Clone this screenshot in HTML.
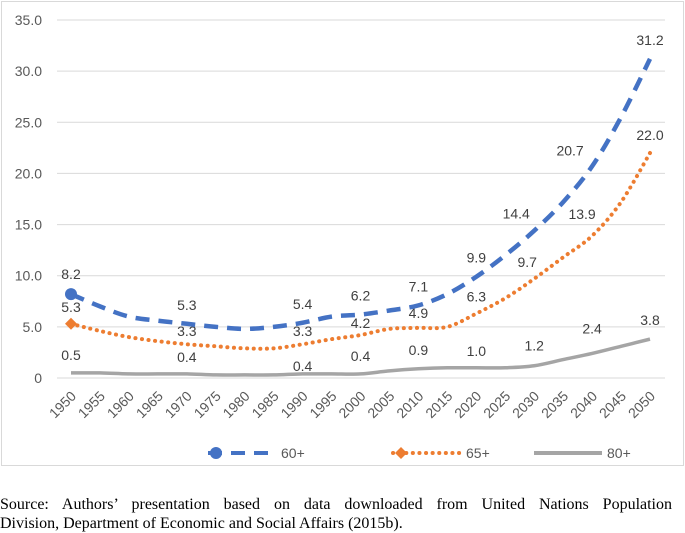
<!DOCTYPE html>
<html><head><meta charset="utf-8"><style>
body{margin:0;background:#fff;width:685px;height:533px;overflow:hidden;font-family:"Liberation Sans",sans-serif}
#box{position:absolute;left:1px;top:1px;width:681px;height:463px;border:1px solid #d9d9d9}
#src{position:absolute;left:0;top:495px;width:672px;font-family:"Liberation Serif",serif;font-size:16px;line-height:19px;color:#000}
#src .l1{text-align:justify;text-align-last:justify}
</style></head><body>
<div id="box"></div>
<svg id="chart" width="685" height="470" style="position:absolute;left:0;top:0"></svg>
<div id="src"><div class="l1">Source: Authors’ presentation based on data downloaded from United Nations Population</div><div>Division, Department of Economic and Social Affairs (2015b).</div></div>
<script>
const years=[1950,1955,1960,1965,1970,1975,1980,1985,1990,1995,2000,2005,2010,2015,2020,2025,2030,2035,2040,2045,2050];
const s60=[8.2,7.0,6.0,5.6,5.3,5.0,4.8,5.0,5.4,6.0,6.2,6.6,7.1,8.2,9.9,12.0,14.4,17.2,20.7,25.5,31.2];
const s65=[5.3,4.6,4.0,3.6,3.3,3.1,2.9,2.9,3.3,3.8,4.2,4.8,4.9,5.0,6.3,7.8,9.7,11.8,13.9,17.2,22.0];
const s80=[0.5,0.5,0.4,0.4,0.4,0.3,0.3,0.3,0.4,0.4,0.4,0.7,0.9,1.0,1.0,1.0,1.2,1.8,2.4,3.1,3.8];
const yTicks=[0,5,10,15,20,25,30,35];
const labelIdx=[0,4,8,10,12,14,16,18,20];
const NS="http://www.w3.org/2000/svg",svg=document.getElementById('chart');
const X=i=>71+i*(650-71)/(years.length-1), Y=v=>378-v*(358/35);
function mk(t,a,p){const e=document.createElementNS(NS,t);for(const k in a)e.setAttribute(k,a[k]);(p||svg).appendChild(e);return e;}
yTicks.forEach(v=>{
 const l=mk('line',{x1:57,x2:665,y1:Y(v),y2:Y(v),stroke:'#d9d9d9','stroke-width':1});
 
 
 const t=mk('text',{x:42,y:Y(v)+5,'text-anchor':'end','font-size':14,fill:'#595959'});
 t.textContent=v===0?'0':v.toFixed(1);
 
 
});
years.forEach((y,i)=>{
 const ax=X(i)+6, ay=397;
 const t=mk('text',{x:ax,y:ay,'text-anchor':'end','font-size':14,fill:'#595959',transform:'rotate(-45,'+ax+','+ay+')'});
 t.textContent=y;
 
 
});
function path(d){let p=`M${X(0)},${Y(d[0])}`;for(let i=0;i<d.length-1;i++){const p0=[X(Math.max(i-1,0)),Y(d[Math.max(i-1,0)])],p1=[X(i),Y(d[i])],p2=[X(i+1),Y(d[i+1])],p3=[X(Math.min(i+2,d.length-1)),Y(d[Math.min(i+2,d.length-1)])];
 p+=` C${p1[0]+(p2[0]-p0[0])/6},${p1[1]+(p2[1]-p0[1])/6} ${p2[0]-(p3[0]-p1[0])/6},${p2[1]-(p3[1]-p1[1])/6} ${p2[0]},${p2[1]}`;}return p;}
const series=[
 {d:s80,c:'#a5a5a5',da:'',w:3.5,n:'series-80plus',off:{0:-13,4:-12,8:-3,10:-13,12:-14,14:-12,16:-15,18:-20,20:-14}},
 {d:s65,c:'#ed7d31',da:'0.1 6.5',w:4,n:'series-65plus',off:{0:-12,4:-8,8:-8,10:-7,12:-10,14:-12,16:-12,18:-17,20:-13},dx:{16:-7,18:-10},lc:'round'},
 {d:s60,c:'#4472c4',da:'14 9',w:4.5,n:'series-60plus',off:{0:-15,4:-14,8:-14,10:-14,12:-14,14:-14,16:-12,18:-11,20:-14},dx:{16:-18,18:-22}}];
series.forEach(s=>{
 const p=mk('path',{d:path(s.d),fill:'none',stroke:s.c,'stroke-width':s.w,'stroke-dasharray':s.da,'stroke-linecap':s.lc||'butt'});
 
 
 labelIdx.forEach(i=>{
  const t=mk('text',{x:X(i)+((s.dx&&s.dx[i])||0),y:Y(s.d[i])+s.off[i],'text-anchor':'middle','font-size':14,fill:'#404040'});
  t.textContent=s.d[i].toFixed(1);
  
  
 });
});
const m1=mk('circle',{cx:X(0),cy:Y(s60[0]),r:6,fill:'#4472c4'});


const m2=mk('path',{d:`M${X(0)},${Y(s65[0])-6}l6,6l-6,6l-6,-6z`,fill:'#ed7d31'});


const lg=[{x:208,c:'#4472c4',da:'14 9',lab:'60+',m:'c'},{x:393,c:'#ed7d31',da:'0.1 6.5',lab:'65+',m:'d'},{x:534,c:'#a5a5a5',da:'',lab:'80+'}];
lg.forEach(l=>{
 const g=mk('g',{});
 
 
 mk('line',{x1:l.x,x2:l.x+68,y1:453,y2:453,stroke:l.c,'stroke-width':4,'stroke-dasharray':l.da,'stroke-linecap':l.da.startsWith('0.1')?'round':'butt'},g);
 if(l.m==='c')mk('circle',{cx:l.x+8,cy:453,r:6,fill:l.c},g);
 if(l.m==='d')mk('path',{d:`M${l.x+8},447l6,6l-6,6l-6,-6z`,fill:l.c},g);
 const t=mk('text',{x:l.x+73,y:458,'font-size':14,fill:'#595959'},g);t.textContent=l.lab;
});
</script>
</body></html>
